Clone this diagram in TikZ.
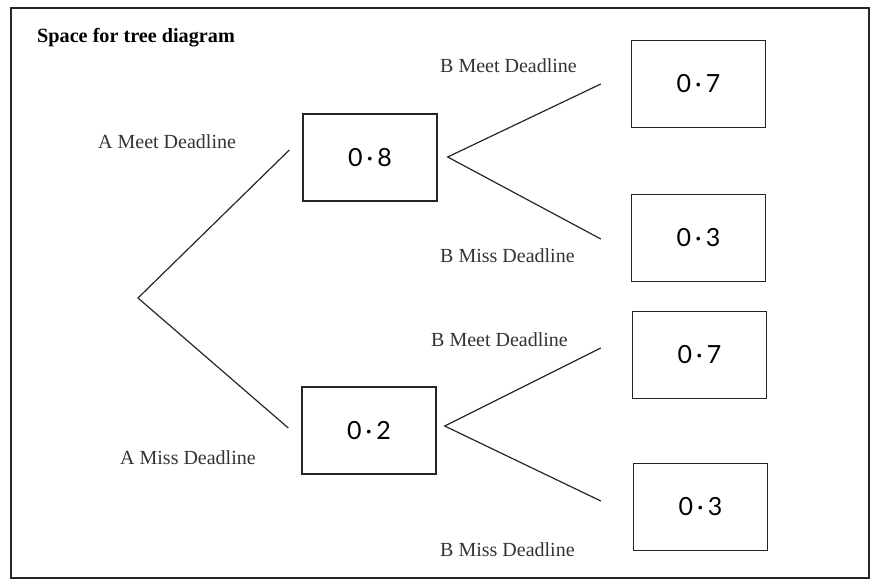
\documentclass[tikz,border=0pt]{standalone}
\usepackage{fontspec}
\setmainfont{Liberation Serif}
\newfontfamily\handfont{Lato}
\begin{document}
\begin{tikzpicture}[x=1pt,y=-1pt,
  probbox/.style={draw=black!85,line width=1.4pt,minimum width=134pt,minimum height=87pt,
    inner sep=0pt,font=\handfont\fontsize{25}{27}\selectfont},
  branch/.style={draw=black!85,line width=1.2pt},
  lbl/.style={font=\fontsize{20}{22}\selectfont,text=black!80,inner sep=0pt,anchor=west}]
\useasboundingbox (0,0) rectangle (872,580);
\draw[line width=1.8pt,black!85] (11,8) rectangle (869,578);

\node[anchor=west,inner sep=0pt,font=\bfseries\fontsize{20.2}{22}\selectfont] (title) at (37,38) {Space for tree diagram};

% probability boxes
\node[probbox] (a1) at (370,157.5) {0\,·\,8};
\node[probbox] (a2) at (369,430.5) {0\,·\,2};
\node[probbox] (b11) at (698.5,84) {0\,·\,7};
\node[probbox] (b12) at (698.5,238) {0\,·\,3};
\node[probbox] (b21) at (699.5,355) {0\,·\,7};
\node[probbox] (b22) at (700.5,507) {0\,·\,3};

% branches
\coordinate (root) at (138,298);
\draw[branch] ([xshift=-13pt,yshift=7.5pt]a1.west) -- (root) -- ([xshift=-13pt,yshift=2.5pt]a2.west);
\draw[branch] ([xshift=-30pt]b11.west) -- ([xshift=10pt,yshift=0.5pt]a1.east) -- ([xshift=-30pt,yshift=-1pt]b12.west);
\draw[branch] ([xshift=-31pt,yshift=7pt]b21.west) -- ([xshift=8pt,yshift=4.5pt]a2.east) -- ([xshift=-32pt,yshift=6pt]b22.west);

% labels
\node[lbl] (la1) at (98,142) {A Meet Deadline};
\node[lbl] (la2) at (120,458) {A Miss Deadline};
\node[lbl] (lb11) at (440,66) {B Meet Deadline};
\node[lbl] (lb12) at (440,256) {B Miss Deadline};
\node[lbl] (lb21) at (431,340) {B Meet Deadline};
\node[lbl] (lb22) at (440,550) {B Miss Deadline};
\end{tikzpicture}
\end{document}
